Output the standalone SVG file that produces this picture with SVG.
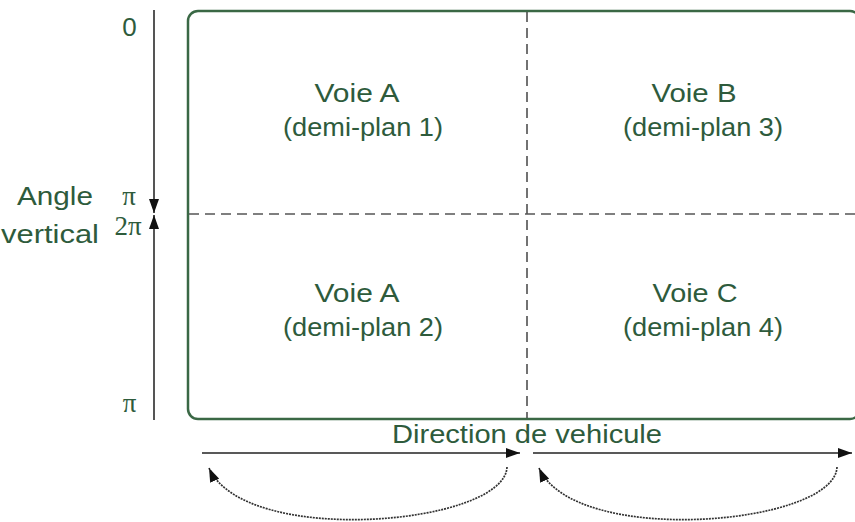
<svg xmlns="http://www.w3.org/2000/svg" width="855" height="522" viewBox="0 0 855 522">
<defs>
<style>
.lbl{font-family:"Liberation Sans",Arial,sans-serif;font-size:26px;fill:#2e5b3c;text-anchor:middle}
.sym{font-family:"Liberation Serif","Times New Roman",serif;font-size:27px;fill:#2e5b3c;text-anchor:middle}
.dash{stroke:#444;stroke-width:1.5;stroke-dasharray:10,6;fill:none}
.axis{stroke:#555;stroke-width:2;fill:none}
.arr{stroke:#222;stroke-width:1.5;fill:none}
.dot{stroke:#333;stroke-width:1.7;stroke-dasharray:2,1;fill:none}
</style>
<marker id="ah" viewBox="0 0 14 10" refX="14" refY="5" markerUnits="userSpaceOnUse" markerWidth="14" markerHeight="10" orient="auto">
<path d="M0,0 L14,5 L0,10 Z" fill="#111"/>
</marker>
</defs>
<rect width="855" height="522" fill="#fff"/>
<g id="frame">
<rect x="188" y="11" width="672" height="408" rx="10" ry="10" fill="none" stroke="#3a6845" stroke-width="2.5"/>
</g>
<g id="connectors">
<line class="dash" x1="527" y1="12" x2="527" y2="418"/>
<line class="dash" x1="189" y1="214" x2="855" y2="214" style="stroke:#555"/>
<line class="axis" x1="154" y1="10" x2="154" y2="213" marker-end="url(#ah)"/>
<line class="axis" x1="154" y1="420" x2="154" y2="215" marker-end="url(#ah)"/>
<line class="arr" x1="202" y1="453" x2="520" y2="453" marker-end="url(#ah)"/>
<line class="arr" x1="533" y1="453" x2="852" y2="453" marker-end="url(#ah)"/>
<path class="dot" d="M507,467 C505,525 245,548 209,468" marker-end="url(#ah)"/>
<path class="dot" d="M837,467 C835,525 575,548 539,468" marker-end="url(#ah)"/>
</g>
<g id="q1">
<text class="lbl" x="357" y="102" textLength="85" lengthAdjust="spacingAndGlyphs">Voie A</text>
<text class="lbl" x="363" y="136" textLength="160" lengthAdjust="spacingAndGlyphs">(demi-plan 1)</text>
</g>
<g id="q3">
<text class="lbl" x="694" y="102" textLength="85" lengthAdjust="spacingAndGlyphs">Voie B</text>
<text class="lbl" x="703" y="136" textLength="160" lengthAdjust="spacingAndGlyphs">(demi-plan 3)</text>
</g>
<g id="q2">
<text class="lbl" x="357" y="302" textLength="85" lengthAdjust="spacingAndGlyphs">Voie A</text>
<text class="lbl" x="363" y="336" textLength="160" lengthAdjust="spacingAndGlyphs">(demi-plan 2)</text>
</g>
<g id="q4">
<text class="lbl" x="695" y="302" textLength="85" lengthAdjust="spacingAndGlyphs">Voie C</text>
<text class="lbl" x="703" y="336" textLength="160" lengthAdjust="spacingAndGlyphs">(demi-plan 4)</text>
</g>
<g id="labels">
<text class="lbl" x="527" y="443" textLength="270" lengthAdjust="spacingAndGlyphs">Direction de vehicule</text>
<text class="lbl" x="129.5" y="36">0</text>
<text class="lbl" x="55" y="205" textLength="76" lengthAdjust="spacingAndGlyphs">Angle</text>
<text class="lbl" x="50" y="243" textLength="98" lengthAdjust="spacingAndGlyphs">vertical</text>
<text class="sym" x="129" y="205">π</text>
<text class="sym" x="128" y="235">2π</text>
<text class="sym" x="129.5" y="412">π</text>
</g>
</svg>
